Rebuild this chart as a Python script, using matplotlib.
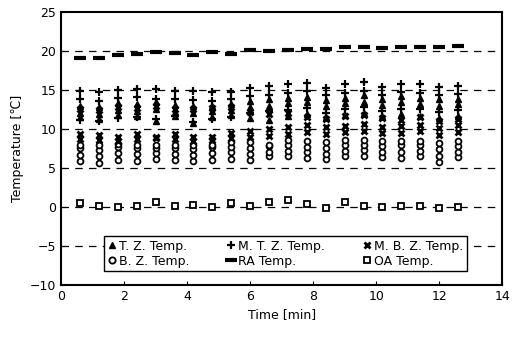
import matplotlib
matplotlib.use("Agg")
import matplotlib.pyplot as plt
import numpy as np

# ------------------------------
# Data
# ------------------------------
time = [0.6, 1.2, 1.8, 2.4, 3.0, 3.6, 4.2, 4.8, 5.4, 6.0, 6.6,
        7.2, 7.8, 8.4, 9.0, 9.6, 10.2, 10.8, 11.4, 12.0, 12.6]

# top zone (triangles), three sensors
tz_1 = [13.0, 12.8, 13.3, 13.2, 13.4, 13.1, 12.9, 13.0, 13.2, 13.6, 13.8, 14.0, 14.1, 13.7, 14.0, 14.3, 13.9, 14.2, 14.0, 13.8, 13.9]
tz_2 = [12.1, 11.9, 12.4, 12.3, 12.6, 12.2, 12.0, 12.3, 12.4, 12.8, 13.0, 13.3, 13.4, 13.0, 13.3, 13.5, 13.1, 13.4, 13.2, 13.0, 13.2]
tz_3 = [11.5, 11.3, 11.8, 11.7, 11.0, 11.6, 10.8, 11.5, 11.8, 11.4, 11.2, 11.7, 11.9, 11.5, 11.8, 12.0, 11.6, 11.9, 11.7, 11.4, 11.6]

# middle-top zone (plus)
mtz_1 = [14.9, 14.7, 15.0, 15.1, 15.1, 14.9, 14.8, 14.7, 14.7, 15.2, 15.5, 15.7, 15.9, 15.2, 15.7, 16.0, 15.4, 15.8, 15.7, 15.4, 15.5]
mtz_2 = [13.9, 13.6, 14.0, 14.1, 13.9, 13.8, 13.7, 13.6, 13.8, 14.2, 14.4, 14.6, 14.8, 14.3, 14.6, 14.9, 14.4, 14.7, 14.6, 14.3, 14.5]
mtz_3 = [11.2, 11.0, 11.4, 11.5, 11.3, 11.6, 10.9, 11.3, 11.5, 12.0, 12.3, 12.4, 12.7, 12.1, 12.5, 12.8, 12.3, 12.6, 12.5, 12.2, 12.4]

# middle-bottom zone (asterisk)
mbz_1 = [9.3, 9.2, 9.0, 9.4, 9.0, 9.3, 9.0, 9.0, 9.5, 9.8, 10.0, 10.2, 10.5, 10.3, 10.4, 10.6, 10.3, 10.4, 10.5, 10.1, 10.5]
mbz_2 = [8.7, 8.6, 8.5, 8.7, 8.9, 8.7, 8.4, 8.6, 8.8, 9.0, 9.1, 9.3, 9.6, 9.4, 9.6, 9.8, 9.5, 9.5, 9.7, 9.2, 9.6]
mbz_3 = [12.5, 12.4, 12.8, 12.7, 12.9, 12.6, 12.5, 12.7, 12.8, 12.2, 11.9, 12.0, 11.5, 11.3, 11.6, 11.8, 11.4, 11.2, 11.5, 11.0, 11.3]

# bottom zone (circles)
bz_1 = [5.9, 5.7, 6.0, 5.9, 6.1, 6.0, 5.9, 6.0, 6.2, 6.0, 6.6, 6.5, 6.3, 6.1, 6.5, 6.6, 6.4, 6.3, 6.5, 5.8, 6.4]
bz_2 = [6.7, 6.5, 6.9, 6.8, 6.9, 6.8, 6.7, 6.9, 7.0, 6.8, 7.0, 7.2, 7.0, 6.8, 7.2, 7.3, 7.1, 7.1, 7.2, 6.6, 7.1]
bz_3 = [7.5, 7.3, 7.7, 7.6, 7.6, 7.5, 7.4, 7.7, 7.7, 7.6, 7.8, 7.9, 7.7, 7.5, 7.9, 8.0, 7.8, 7.9, 7.9, 7.4, 7.8]
bz_4 = [8.0, 7.9, 8.1, 8.0, 8.0, 7.9, 7.9, 8.0, 8.3, 8.3, 8.0, 8.6, 8.4, 8.3, 8.6, 8.6, 8.5, 8.5, 8.5, 8.2, 8.5]

# return air and outdoor air
ra_temp = [19.15, 19.15, 19.45, 19.65, 19.9, 19.7, 19.45, 19.8, 19.6, 20.1, 20.05,
           20.15, 20.25, 20.2, 20.5, 20.55, 20.4, 20.45, 20.45, 20.45, 20.6]
oa_temp = [0.5, 0.15, 0.0, 0.15, 0.6, 0.1, 0.25, 0.0, 0.5, 0.15, 0.7,
           0.9, 0.4, -0.1, 0.7, 0.15, 0.0, 0.15, 0.15, -0.15, 0.0]

# ------------------------------
# Plot
# ------------------------------
plt.rcParams['font.family'] = ['DejaVu Sans']
fig = plt.figure(figsize=(5.14, 3.39), dpi=100)
ax = fig.add_axes([0.119, 0.159, 0.858, 0.806])

for y in [-5, 0, 5, 10, 15, 20]:
    ax.axhline(y, color='black', lw=0.9, dashes=(6, 5), zorder=1)

style = dict(linestyle='none', color='black')
for s in [bz_1, bz_2, bz_3, bz_4]:
    ax.plot(time, s, marker='o', ms=4.2, mfc='white', mew=1.3, **style)
for s in [mbz_1, mbz_2, mbz_3]:
    ax.plot(time, s, marker='x', ms=4.2, mew=2.0, **style)
for s in [tz_1, tz_2, tz_3]:
    ax.plot(time, s, marker='^', ms=4.2, **style)
for s in [mtz_1, mtz_2, mtz_3]:
    ax.plot(time, s, marker='+', ms=6, mew=1.6, **style)
ax.plot(time, ra_temp, marker='_', ms=8, mew=3, **style)
ax.plot(time, oa_temp, marker='s', ms=5, mfc='white', mew=1.3, **style)

# legend proxies (row-wise order in a 3-column legend)
h_tz = plt.Line2D([], [], marker='^', ms=4.5, **style)
h_mtz = plt.Line2D([], [], marker='+', ms=6, mew=1.6, **style)
h_mbz = plt.Line2D([], [], marker='x', ms=4.5, mew=2.0, **style)
h_bz = plt.Line2D([], [], marker='o', ms=4.5, mfc='white', mew=1.3, **style)
h_ra = plt.Line2D([], [], marker='_', ms=8, mew=3, **style)
h_oa = plt.Line2D([], [], marker='s', ms=5, mfc='white', mew=1.3, **style)
leg = ax.legend([h_tz, h_bz, h_mtz, h_ra, h_mbz, h_oa],
                ['T. Z. Temp.', 'B. Z. Temp.', 'M. T. Z. Temp.', 'RA Temp.',
                 'M. B. Z. Temp.', 'OA Temp.'],
                ncol=3, loc='lower center', bbox_to_anchor=(0.509, 0.05),
                fontsize=9, frameon=True, fancybox=False, framealpha=1,
                edgecolor='black', handlelength=0.6, handletextpad=0.3,
                columnspacing=3.0, labelspacing=0.15, borderpad=0.3,
                borderaxespad=0.0)
leg.get_frame().set_linewidth(1.0)

ax.set_xlim(0, 14)
ax.set_ylim(-10, 25)
ax.set_xticks(np.arange(0, 15, 2))
ax.set_yticks(np.arange(-10, 26, 5))
ax.tick_params(direction='in', length=3, labelsize=9, colors='black')
for sp in ax.spines.values():
    sp.set_linewidth(1.5)

ax.set_xlabel('Time [min]', fontsize=9)
ax.set_ylabel('Temperature [\u2103]', fontsize=9)

fig.savefig('out.png', dpi=100)
